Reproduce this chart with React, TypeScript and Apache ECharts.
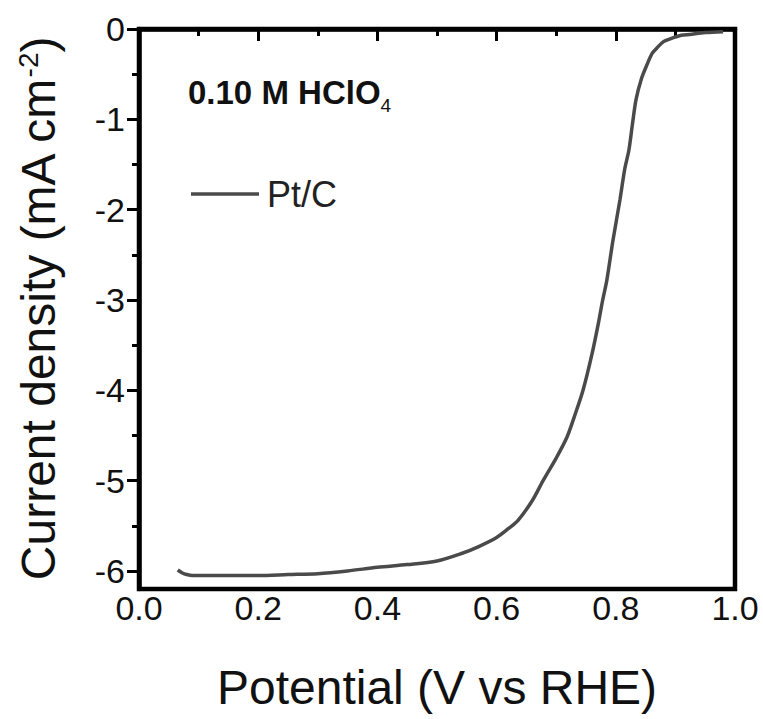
import React, { useEffect, useRef } from "react";
import * as echarts from "echarts";

const potential = [
  0.065, 0.072, 0.08, 0.09, 0.12, 0.15, 0.2, 0.25, 0.3, 0.35, 0.4, 0.45, 0.5,
  0.54, 0.57, 0.6, 0.62, 0.636, 0.66, 0.678, 0.7, 0.718, 0.73, 0.745, 0.76,
  0.771, 0.778, 0.785, 0.795, 0.807, 0.815, 0.822, 0.828, 0.834, 0.843, 0.852,
  0.861, 0.869, 0.88, 0.891, 0.91, 0.924, 0.95, 0.98,
];
const currentDensity = [
  -5.99, -6.02, -6.04, -6.05, -6.05, -6.05, -6.05, -6.04, -6.03, -6.0, -5.96,
  -5.93, -5.89, -5.81, -5.73, -5.63, -5.53, -5.44, -5.22, -5.0, -4.75, -4.52,
  -4.3, -4.0, -3.6, -3.25, -3.0, -2.78, -2.35, -1.89, -1.55, -1.34, -1.05,
  -0.78, -0.55, -0.4, -0.27, -0.21, -0.14, -0.11, -0.07, -0.06, -0.04, -0.03,
];
const yMajorTicks = [-6, -5, -4, -3, -2, -1, 0];
const yMinorTicks = [-5.5, -4.5, -3.5, -2.5, -1.5, -0.5];
const seriesName = "Pt/C";
const electrolyte = "0.10 M HClO";
const electrolyteSub = "4";

const FONT = "'Liberation Sans', Arial, sans-serif";

export default function App() {
  const ref = useRef<HTMLDivElement>(null);
  useEffect(() => {
    if (!ref.current) return;
    const chart = echarts.init(ref.current, null, { renderer: "svg" });
    const data = potential.map((x, i) => [x, currentDensity[i]]);
    chart.setOption({
      animation: false,
      backgroundColor: "#fff",
      grid: {
        left: 139,
        right: 28,
        top: 29,
        bottom: 130,
        show: true,
        borderColor: "#000",
        borderWidth: 4.5,
      },
      xAxis: {
        type: "value",
        min: 0,
        max: 1,
        interval: 0.2,
        name: "Potential (V vs RHE)",
        nameLocation: "middle",
        nameGap: 74,
        nameTextStyle: { fontFamily: FONT, fontSize: 48, color: "#111" },
        axisLine: { show: true, lineStyle: { color: "#000", width: 4.5 } },
        axisTick: { show: true, inside: false, length: 12, lineStyle: { color: "#000", width: 3 } },
        minorTick: { show: true, splitNumber: 2, length: 7, lineStyle: { color: "#000", width: 3 } },
        axisLabel: {
          margin: 2,
          fontFamily: FONT,
          fontSize: 34,
          color: "#111",
          formatter: (v: number) => v.toFixed(1),
        },
        splitLine: { show: false },
      },
      yAxis: [
        {
          type: "value",
          min: -6.2,
          max: 0,
          name: "Current density (mA cm{sup|-2})",
          nameLocation: "middle",
          nameGap: 77,
          nameTextStyle: {
            fontFamily: FONT,
            fontSize: 48,
            color: "#111",
            rich: {
              sup: { fontFamily: FONT, fontSize: 28, color: "#111", verticalAlign: "top", lineHeight: 48 },
            },
          },
          axisLine: { show: true, lineStyle: { color: "#000", width: 4.5 } },
          axisTick: {
            show: true,
            inside: false,
            length: 12,
            customValues: yMajorTicks,
            lineStyle: { color: "#000", width: 3 },
          },
          axisLabel: {
            margin: 14,
            fontFamily: FONT,
            fontSize: 34,
            color: "#111",
            customValues: yMajorTicks,
            formatter: (v: number) => String(v),
          },
          splitLine: { show: false },
        },
        {
          type: "value",
          min: -6.2,
          max: 0,
          position: "left",
          axisLine: { show: false },
          axisTick: {
            show: true,
            inside: false,
            length: 7,
            customValues: yMinorTicks,
            lineStyle: { color: "#000", width: 3 },
          },
          axisLabel: { show: false },
          splitLine: { show: false },
        },
      ],
      graphic: [
        {
          type: "text",
          left: 188,
          top: 76,
          style: {
            text: `{b|${electrolyte}}{s|${electrolyteSub}}`,
            rich: {
              b: { fontFamily: FONT, fontSize: 33, fontWeight: "bold", fill: "#111", lineHeight: 38, verticalAlign: "bottom" },
              s: { fontFamily: FONT, fontSize: 19, fontWeight: "normal", fill: "#111", verticalAlign: "bottom", lineHeight: 38, padding: [0, 0, -6, 0] },
            },
          },
        },
        {
          type: "line",
          shape: { x1: 191, y1: 194, x2: 259, y2: 194 },
          style: { stroke: "#4a4a4a", lineWidth: 3.5 },
        },
        {
          type: "text",
          x: 267,
          y: 194,
          style: {
            text: seriesName,
            fontFamily: FONT,
            fontSize: 36,
            fill: "#222",
            verticalAlign: "middle",
          },
        },
      ],
      series: [
        {
          type: "line",
          name: seriesName,
          data,
          showSymbol: false,
          smooth: 0.3,
          lineStyle: { color: "#4a4a4a", width: 3.5 },
          clip: true,
        },
      ],
    });
    return () => chart.dispose();
  }, []);
  return <div ref={ref} style={{ width: 763, height: 719, position: "absolute", left: 0, top: 0 }} />;
}
